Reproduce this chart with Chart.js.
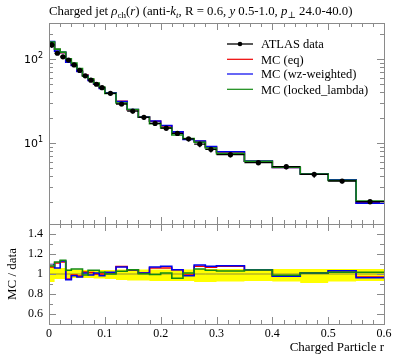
<!DOCTYPE html>
<html><head><meta charset="utf-8">
<script src="https://cdn.jsdelivr.net/npm/chart.js@4/dist/chart.umd.min.js"></script>
<style>
html,body{margin:0;padding:0;background:#fff;}
#wrap{position:relative;width:397px;height:358px;overflow:hidden;}
canvas{position:absolute;left:0;top:0;}
</style></head>
<body><div id="wrap"><canvas id="main" width="397" height="358"></canvas><canvas id="ratio" width="397" height="358"></canvas></div>
<script>
// ---- data ----
const binEdges = [0,0.01,0.02,0.03,0.04,0.05,0.06,0.07,0.08,0.09,0.1,0.12,0.14,0.16,0.18,0.2,0.22,0.24,0.26,0.28,0.3,0.35,0.4,0.45,0.5,0.55,0.6];
const dataValues = [147,117,106,97,85,73,63,56,50,45.5,39,29.1,24,20.2,17.1,15,13,11.2,9.7,8.4,7.26,5.83,5.23,4.24,3.53,2.0];
const ratioEq = [1.07,1.11,1.12,0.95,0.99,0.98,1.02,1.015,1.0,1.0,1.01,1.075,1.037,1.01,1.06,1.06,1.043,0.99,1.077,1.067,1.077,1.04,0.977,1.01,1.033,0.97];
const ratioWz = [1.095,1.06,1.13,0.943,0.983,0.97,1.01,0.99,1.01,0.983,1.017,1.07,1.043,1.01,1.07,1.077,1.043,0.983,1.09,1.077,1.083,1.043,0.977,1.01,1.033,0.963];
const ratioLocked = [1.08,1.12,1.137,1.037,1.05,1.05,0.99,1.037,1.037,1.017,1.0,1.027,1.043,1.003,0.995,1.01,0.957,1.01,1.05,1.037,1.03,1.04,0.987,1.01,1.017,1.017];
const bandHi = [1.08,1.06,1.06,1.045,1.045,1.045,1.04,1.04,1.04,1.04,1.04,1.045,1.045,1.045,1.045,1.045,1.045,1.045,1.05,1.05,1.05,1.05,1.05,1.05,1.05,1.05];
const bandLo = [0.92,0.95,0.95,0.96,0.96,0.96,0.96,0.96,0.955,0.955,0.95,0.94,0.935,0.935,0.93,0.93,0.93,0.93,0.92,0.92,0.925,0.93,0.925,0.91,0.925,0.93];
const xTickLabels = [0,0.1,0.2,0.3,0.4,0.5,0.6];
const ratioTickLabels = [0.6,0.8,1,1.2,1.4];
const logTickLabels = [10,100];
const seriesNames = ['ATLAS data','MC (eq)','MC (wz-weighted)','MC (locked_lambda)'];
const seriesColors = ['#000000','#ee0000','#0000ee','#138a13'];

const SERIF = '"Liberation Serif","DejaVu Serif",serif';
const FRAME = '#8a8a8a';

function steps(vals){ const p = vals.map((v,i)=>({x:binEdges[i],y:v})); p.push({x:binEdges[binEdges.length-1], y:vals[vals.length-1]}); return p; }
const mcEq = dataValues.map((d,i)=>d*ratioEq[i]);
const mcWz = dataValues.map((d,i)=>d*ratioWz[i]);
const mcLocked = dataValues.map((d,i)=>d*ratioLocked[i]);
const ones = dataValues.map(()=>1);
const centers = dataValues.map((d,i)=>({x:(binEdges[i]+binEdges[i+1])/2, y:d}));

function lineDs(vals, color, w, order){ return {type:'line', data:steps(vals), stepped:'before', borderColor:color, borderWidth:w, pointRadius:0, fill:false, order:order}; }

function drawRich(ctx, x, y, segs, align){
  let total=0; segs.forEach(s=>{ctx.font=s.f; total+=ctx.measureText(s.t).width;});
  let cx = align==='right'? x-total : (align==='center'? x-total/2 : x);
  ctx.textAlign='left';
  segs.forEach(s=>{ctx.font=s.f; ctx.fillText(s.t, cx, y+(s.dy||0)); cx+=ctx.measureText(s.t).width;});
}
function xTicks(ctx, xs, area, top, bottom){
  ctx.strokeStyle=FRAME; ctx.lineWidth=1; ctx.beginPath();
  for(let k=0;k<=30;k++){ const v=k*0.02; const px=Math.round(xs.getPixelForValue(v))+0.5; const major=(k%5===0); const L=major?7:4;
    if(bottom){ctx.moveTo(px,area.bottom); ctx.lineTo(px,area.bottom-L);} if(top){ctx.moveTo(px,area.top); ctx.lineTo(px,area.top+L);} }
  ctx.stroke();
}
function frame(ctx, area){
  ctx.strokeStyle=FRAME; ctx.lineWidth=1;
  ctx.strokeRect(Math.round(area.left)+0.5, Math.round(area.top)+0.5, Math.round(area.right-area.left), Math.round(area.bottom-area.top));
}

const mainPlugin = { id:'mainDeco', afterDatasetsDraw(chart){
  const ctx=chart.ctx, a=chart.chartArea, xs=chart.scales.x, ys=chart.scales.y;
  ctx.save();
  ctx.strokeStyle='#000'; ctx.lineWidth=1.3; ctx.beginPath();
  dataValues.forEach((d,i)=>{ const x0=xs.getPixelForValue(binEdges[i]), x1=xs.getPixelForValue(binEdges[i+1]); const py=ys.getPixelForValue(d); const pc=xs.getPixelForValue((binEdges[i]+binEdges[i+1])/2);
    ctx.moveTo(x0,py); ctx.lineTo(x1,py); ctx.moveTo(pc, ys.getPixelForValue(d*bandHi[i])); ctx.lineTo(pc, ys.getPixelForValue(d*bandLo[i])); });
  ctx.stroke();
  ctx.restore();
}, afterDraw(chart){
  const ctx=chart.ctx, a=chart.chartArea, xs=chart.scales.x, ys=chart.scales.y;
  ctx.save();
  frame(ctx,a);
  xTicks(ctx,xs,a,true,true);
  ctx.strokeStyle=FRAME; ctx.beginPath();
  for(let e=0;e<=2;e++){ for(let m=1;m<=9;m++){ const v=m*Math.pow(10,e); if(v<ys.min||v>ys.max) continue; const py=Math.round(ys.getPixelForValue(v))+0.5; const L=(m===1)?7:4;
    ctx.moveTo(a.left,py); ctx.lineTo(a.left+L,py); ctx.moveTo(a.right,py); ctx.lineTo(a.right-L,py);} }
  ctx.stroke();
  ctx.fillStyle='#000'; ctx.textBaseline='middle';
  logTickLabels.forEach(v=>{ const py=ys.getPixelForValue(v); const e=Math.round(Math.log10(v));
    drawRich(ctx, 43, py+1, [{t:'10', f:'11px "DejaVu Sans",sans-serif'},{t:String(e), f:'8px "DejaVu Sans",sans-serif', dy:-4}], 'right'); });
  ctx.textBaseline='alphabetic';
  const F='12.8px '+SERIF, FI='italic 12.8px '+SERIF, FS='9px '+SERIF, FSI='italic 9px '+SERIF;
  drawRich(ctx, 49, 15, [{t:'Charged jet ',f:F},{t:'ρ',f:FI},{t:'ch',f:FS,dy:3},{t:'(',f:F},{t:'r',f:FI},{t:') (anti-',f:F},{t:'k',f:FI},{t:'t',f:FSI,dy:3},{t:', R = 0.6, ',f:F},{t:'y',f:FI},{t:' 0.5-1.0, ',f:F},{t:'p',f:FI},{t:'⊥',f:FS,dy:3},{t:' 24.0-40.0)',f:F}], 'left');
  const rows=[44,59.3,74,89.3];
  ctx.textBaseline='middle';
  seriesNames.forEach((n,i)=>{ const y=rows[i]; ctx.strokeStyle=seriesColors[i]; ctx.lineWidth=i===0?1.3:1.2; ctx.beginPath(); ctx.moveTo(227,y); ctx.lineTo(253,y); ctx.stroke();
    if(i===0){ ctx.fillStyle='#000'; ctx.beginPath(); ctx.arc(240,y,2.3,0,Math.PI*2); ctx.fill(); }
    ctx.fillStyle='#000'; ctx.font='12.5px '+SERIF; ctx.textAlign='left'; ctx.fillText(n, 261, y+1); });
  ctx.restore();
}};

new Chart(document.getElementById('main'), {
  data:{ datasets:[
    {type:'scatter', data:centers, pointRadius:2.6, pointBackgroundColor:'#000', pointBorderWidth:0, showLine:false, order:0},
    lineDs(mcLocked, seriesColors[3], 1.6, 1),
    lineDs(mcWz, seriesColors[2], 1.6, 2),
    lineDs(mcEq, seriesColors[1], 1.6, 3)
  ]},
  options:{ responsive:false, animation:false, devicePixelRatio:1,
    layout:{padding:{left:49, right:13, top:23, bottom:134}},
    plugins:{legend:{display:false}, tooltip:{enabled:false}},
    scales:{ x:{type:'linear', min:0, max:0.6, display:false}, y:{type:'logarithmic', min:1.086, max:268, display:false} } },
  plugins:[mainPlugin]
});

const ratioPlugin = { id:'ratioDeco', afterDraw(chart){
  const ctx=chart.ctx, a=chart.chartArea, xs=chart.scales.x, ys=chart.scales.y;
  ctx.save();
  frame(ctx,a);
  xTicks(ctx,xs,a,true,true);
  ctx.strokeStyle=FRAME; ctx.beginPath();
  for(let k=5;k<=15;k++){ const v=k/10; const py=Math.round(ys.getPixelForValue(v))+0.5; const L=(k%2===0)?7:4;
    ctx.moveTo(a.left,py); ctx.lineTo(a.left+L,py); ctx.moveTo(a.right,py); ctx.lineTo(a.right-L,py); }
  ctx.stroke();
  ctx.fillStyle='#000'; ctx.textBaseline='middle'; ctx.textAlign='right'; ctx.font='12px '+SERIF;
  ratioTickLabels.forEach(v=>{ ctx.fillText(String(v), 43, ys.getPixelForValue(v)); });
  ctx.textAlign='center';
  xTickLabels.forEach(v=>{ ctx.fillText(String(v), xs.getPixelForValue(v), 334); });
  ctx.font='13px '+SERIF; ctx.textAlign='right'; ctx.fillText('Charged Particle r', 384, 348);
  ctx.translate(13,274); ctx.rotate(-Math.PI/2); ctx.textAlign='center'; ctx.fillText('MC / data', 0, 0);
  ctx.restore();
}};

new Chart(document.getElementById('ratio'), {
  data:{ datasets:[
    lineDs(ratioLocked, seriesColors[3], 1.6, 1),
    lineDs(ratioWz, seriesColors[2], 1.6, 2),
    lineDs(ratioEq, seriesColors[1], 1.6, 3),
    lineDs(ones, 'rgba(120,120,60,0.8)', 1, 4),
    {type:'line', data:steps(bandHi), stepped:'before', borderWidth:0, pointRadius:0, backgroundColor:'#ffff00', fill:'+1', order:5},
    {type:'line', data:steps(bandLo), stepped:'before', borderWidth:0, pointRadius:0, fill:false, order:6}
  ]},
  options:{ responsive:false, animation:false, devicePixelRatio:1,
    layout:{padding:{left:49, right:13, top:224, bottom:34}},
    plugins:{legend:{display:false}, tooltip:{enabled:false}},
    scales:{ x:{type:'linear', min:0, max:0.6, display:false}, y:{type:'linear', min:0.5, max:1.5, display:false} } },
  plugins:[ratioPlugin]
});
</script></body></html>
